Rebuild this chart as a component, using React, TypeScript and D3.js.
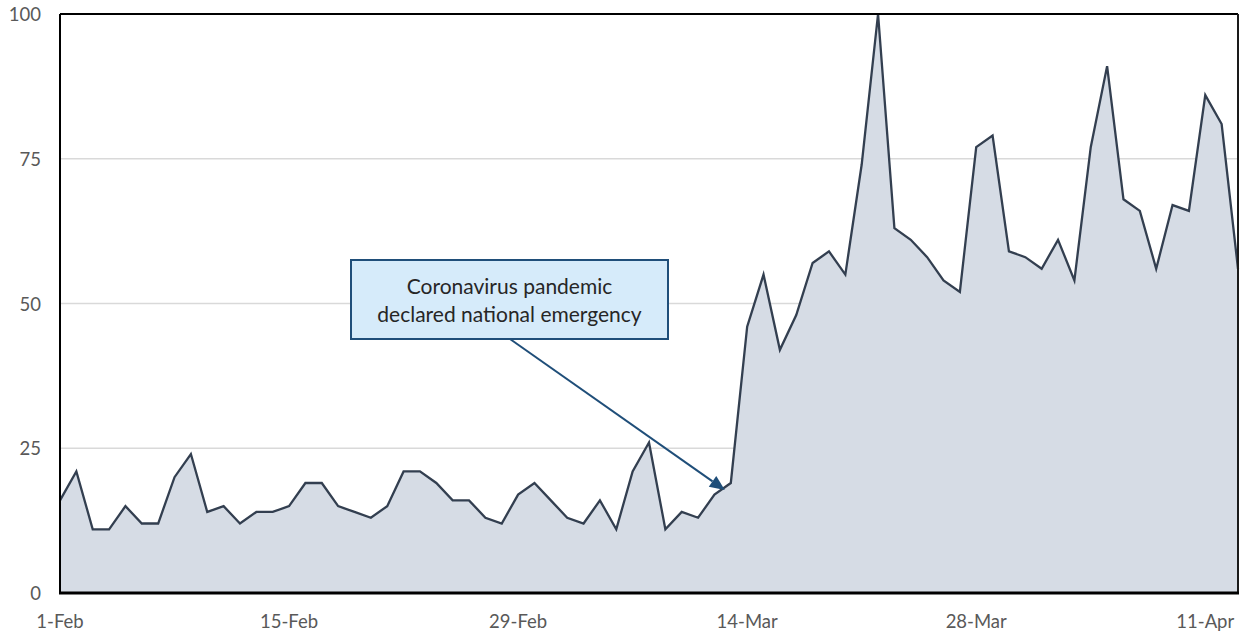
import React from "react";
import * as d3 from "d3";

// Daily index values, 1 Feb 2020 through 13 Apr 2020
const startDate = new Date(Date.UTC(2020, 1, 1));
const dailyValues = [
  16, 21, 11, 11, 15, 12, 12, 20, 24, 14, 15, 12, 14, 14, 15, 19, 19, 15, 14, 13,
  15, 21, 21, 19, 16, 16, 13, 12, 17, 19, 16, 13, 12, 16, 11, 21, 26, 11, 14, 13,
  17, 19, 46, 55, 42, 48, 57, 59, 55, 74, 100, 63, 61, 58, 54, 52, 77, 79, 59, 58,
  56, 61, 54, 77, 91, 68, 66, 56, 67, 66, 86, 81, 56,
];
const yTicks = [0, 25, 50, 75, 100];
const xTickLabels = ["1-Feb", "15-Feb", "29-Feb", "14-Mar", "28-Mar", "11-Apr"];
const xTickStepDays = 14;
const annotationLines = ["Coronavirus pandemic", "declared national emergency"];
const annotationDay = 41;

const W = 1242;
const H = 635;
const M = { left: 60, right: 4, top: 14, bottom: 42 };

export default function App() {
  const dates = dailyValues.map((_, i) => d3.utcDay.offset(startDate, i));
  const points = dailyValues.map((v, i) => ({ date: dates[i], value: v }));

  const x = d3
    .scaleUtc()
    .domain([dates[0], dates[dates.length - 1]])
    .range([M.left, W - M.right]);
  const y = d3.scaleLinear().domain([0, 100]).range([H - M.bottom, M.top]);

  const area = d3
    .area<{ date: Date; value: number }>()
    .x((d) => x(d.date))
    .y0(y(0))
    .y1((d) => y(d.value));
  const line = d3
    .line<{ date: Date; value: number }>()
    .x((d) => x(d.date))
    .y((d) => y(d.value));

  const font = "Lato, 'Open Sans', sans-serif";
  const x0 = M.left;
  const x1 = W - M.right;
  const yBottom = y(0);
  const yTop = y(100);

  // callout box and arrow
  const box = { x: 351, y: 260, w: 317, h: 79 };
  const arrowStart: [number, number] = [510, box.y + box.h];
  const target: [number, number] = [
    x(dates[annotationDay]) - 6,
    y(dailyValues[annotationDay]) + 7,
  ];
  const ang = Math.atan2(target[1] - arrowStart[1], target[0] - arrowStart[0]);
  const headLen = 15;
  const headW = 6.5;
  const baseX = target[0] - headLen * Math.cos(ang);
  const baseY = target[1] - headLen * Math.sin(ang);
  const px = -Math.sin(ang);
  const py = Math.cos(ang);
  const head = [
    [target[0], target[1]],
    [baseX + headW * px, baseY + headW * py],
    [baseX - headW * px, baseY - headW * py],
  ]
    .map((p) => p.join(","))
    .join(" ");

  return (
    <svg
      width={W}
      height={H}
      style={{ position: "absolute", left: 0, top: 0, background: "#fff" }}
    >
      {/* gridlines */}
      {yTicks
        .filter((t) => t > 0 && t < 100)
        .map((t) => (
          <line
            key={t}
            x1={x0}
            x2={x1}
            y1={y(t)}
            y2={y(t)}
            stroke="#d9d9d9"
            strokeWidth={1.5}
          />
        ))}

      <path d={area(points) ?? ""} fill="#d6dce5" />
      <path
        d={line(points) ?? ""}
        fill="none"
        stroke="#333f50"
        strokeWidth={2.3}
        strokeLinejoin="miter"
      />

      {/* frame */}
      <line x1={x0} x2={x1} y1={yTop} y2={yTop} stroke="#000" strokeWidth={2} />
      <line x1={x0} x2={x0} y1={yTop} y2={yBottom} stroke="#000" strokeWidth={2} />
      <line x1={x1} x2={x1} y1={yTop} y2={yBottom} stroke="#1a1a1a" strokeWidth={2} />
      <line x1={x0 - 1} x2={x1 + 1} y1={yBottom} y2={yBottom} stroke="#000" strokeWidth={3} />

      {/* y tick labels */}
      {yTicks.map((t) => (
        <text
          key={t}
          x={41}
          y={y(t)}
          textAnchor="end"
          dominantBaseline="central"
          fontFamily={font}
          fontSize={18.5}
          fill="#595959"
        >
          {t}
        </text>
      ))}

      {/* x tick labels */}
      {xTickLabels.map((lab, i) => (
        <text
          key={lab}
          x={x(d3.utcDay.offset(startDate, i * xTickStepDays))}
          y={621}
          textAnchor="middle"
          dominantBaseline="central"
          fontFamily={font}
          fontSize={18.5}
          fill="#595959"
        >
          {lab}
        </text>
      ))}

      {/* annotation */}
      <line
        x1={arrowStart[0]}
        y1={arrowStart[1]}
        x2={baseX}
        y2={baseY}
        stroke="#1f4e79"
        strokeWidth={2}
      />
      <polygon points={head} fill="#1f4e79" />
      <rect
        x={box.x}
        y={box.y}
        width={box.w}
        height={box.h}
        fill="#d6ebfa"
        stroke="#1f4e79"
        strokeWidth={2}
      />
      {annotationLines.map((l, i) => (
        <text
          key={l}
          x={box.x + box.w / 2}
          y={box.y + 25 + i * 28}
          textAnchor="middle"
          dominantBaseline="central"
          fontFamily={font}
          fontSize={21}
          fill="#262626"
        >
          {l}
        </text>
      ))}
    </svg>
  );
}
